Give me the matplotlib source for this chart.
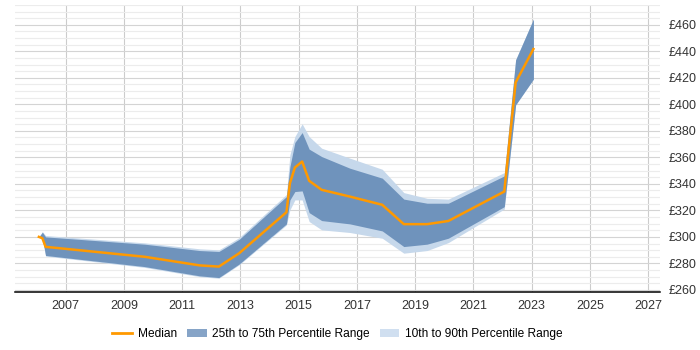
import matplotlib
matplotlib.use("Agg")
import matplotlib.pyplot as plt
from matplotlib.patches import Patch
from matplotlib.lines import Line2D
from matplotlib.ticker import MultipleLocator, FuncFormatter

plt.rcParams['font.family'] = ['Liberation Sans', 'DejaVu Sans']

# fractional years of each sample
years = [2006.08, 2006.2, 2006.31, 2009.71, 2011.6, 2012.26, 2012.96, 2014.58,
         2014.70, 2014.87, 2015.12, 2015.36, 2015.79, 2016.76, 2017.87, 2018.61,
         2019.41, 2020.14, 2022.06, 2022.45, 2023.06]

median = [300, 299, 292.5, 285, 278.5, 277.6, 287.7, 318.6,
          340.5, 352.3, 356.8, 342.3, 335.5, 330.4, 324.2, 309.6,
          309.6, 312, 334.2, 416.5, 441.7]

p25 = [300, 299, 286, 277.6, 270.6, 269.3, 279.6, 309.8,
       327.9, 334.2, 334.7, 318.3, 312.3, 309.8, 304.5, 292.7,
       294.5, 299, 322.8, 399.6, 419]

p75 = [300, 303.5, 300, 294.5, 289.7, 289, 298.2, 330.4,
       353, 371.2, 378.7, 366.2, 360.6, 351.8, 344.3, 328.5,
       325.4, 325.4, 346, 433.6, 464.3]

p10 = [300, 299, 285.5, 277, 270, 268.8, 279, 309,
       320.4, 327.9, 327.9, 311.6, 305.3, 303.3, 299, 287.7,
       289.7, 295.7, 321, 399.6, 419]

p90 = [300, 304, 301, 295.5, 291, 290.2, 299.5, 332,
       362, 375.7, 385.3, 375.7, 366.9, 359.4, 351, 333.4,
       329.1, 328.5, 348.5, 433.6, 464.3]

fig = plt.figure(figsize=(7, 3.5), dpi=100)
ax = fig.add_axes([0.021, 0.166, 0.922, 0.82])

light = "#c6d8eb"
dark = "#6f93bc"
orange = "#ff9900"

ax.fill_between(years, p10, p90, color=light, linewidth=0, zorder=2)
ax.fill_between(years, p25, p75, color=dark, linewidth=0, zorder=3)
ax.plot(years, median, color=orange, linewidth=1.8, zorder=4)

ax.set_xlim(2005.25, 2027.41)
ax.set_ylim(258.5, 475)

ax.xaxis.set_major_locator(MultipleLocator(2, offset=1))
ax.yaxis.set_major_locator(MultipleLocator(20))
ax.yaxis.set_minor_locator(MultipleLocator(5))
ax.yaxis.set_major_formatter(FuncFormatter(lambda v, p: "£%d" % v))
ax.xaxis.set_major_formatter(FuncFormatter(lambda v, p: "%d" % round(v)))

ax.grid(axis="x", which="major", color="#cccccc", linewidth=0.8, zorder=0)
ax.grid(axis="y", which="major", color="#d4d4d4", linewidth=0.8, zorder=0)
ax.grid(axis="y", which="minor", color="#ececec", linewidth=0.8, zorder=0)
ax.set_axisbelow(True)

for s in ["top", "left", "right"]:
    ax.spines[s].set_visible(False)
ax.spines["bottom"].set_color("black")
ax.spines["bottom"].set_linewidth(1.1)

ax.yaxis.tick_right()
ax.tick_params(axis="y", which="both", length=0, pad=6, labelsize=9, labelcolor="#333333")
ax.tick_params(axis="x", which="both", length=0, pad=6, labelsize=9, labelcolor="#333333")

handles = [Line2D([0], [0], color=orange, linewidth=2),
           Patch(facecolor="#86a4c7", edgecolor="none"),
           Patch(facecolor="#d0dff0", edgecolor="none")]
labels = ["Median", "25th to 75th Percentile Range", "10th to 90th Percentile Range"]
fig.legend(handles, labels, loc="center", bbox_to_anchor=(0.482, 0.045), ncol=3,
           frameon=False, fontsize=8.6, handlelength=1.65, columnspacing=0.85,
           handletextpad=0.45)

fig.savefig("out.png", dpi=100)
